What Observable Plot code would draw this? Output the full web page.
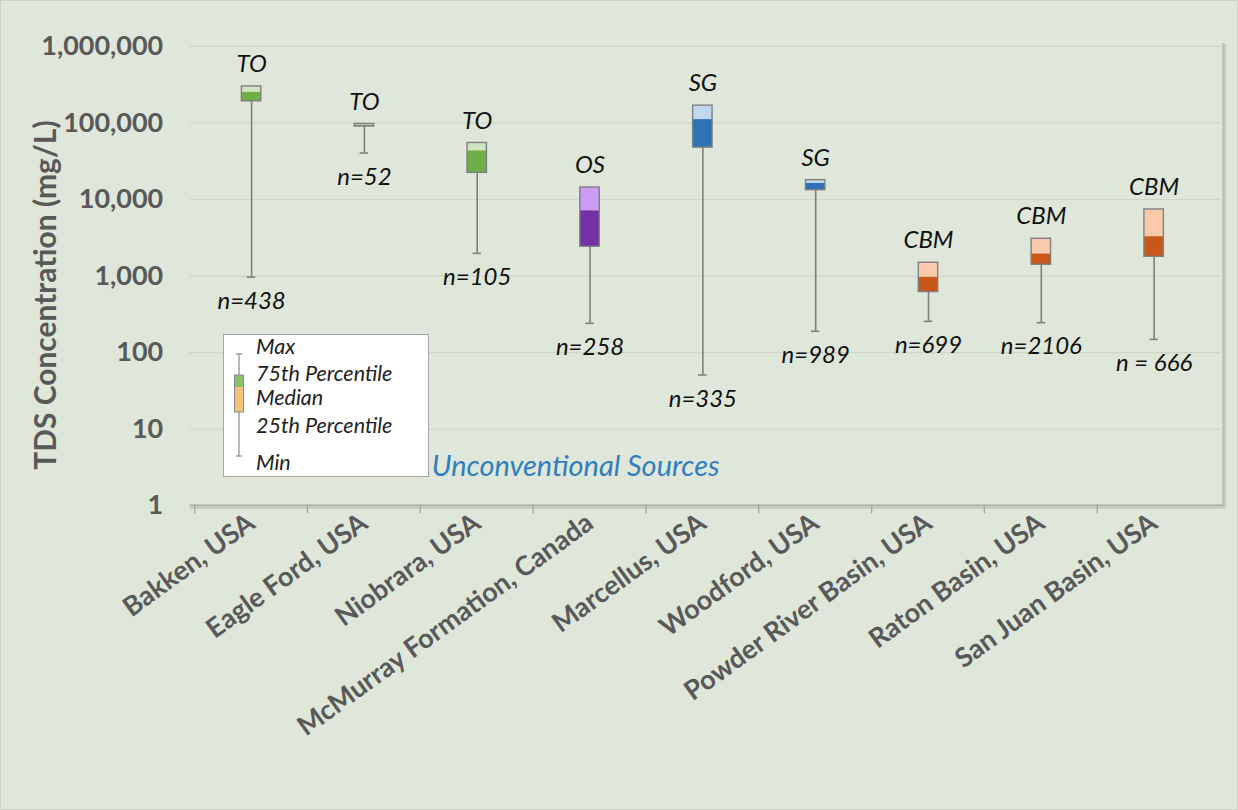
<!DOCTYPE html>
<html><head><meta charset="utf-8">
<script src="https://cdn.jsdelivr.net/npm/d3@7"></script>
<script src="https://cdn.jsdelivr.net/npm/@observablehq/plot@0.6"></script>
<style>
html,body{margin:0;padding:0;background:#dfe6da;}
#wrap{position:relative;width:1238px;height:810px;overflow:hidden;background:#dfe6da;box-sizing:border-box;border:1px solid #c9d0c5;}
#legend{position:absolute;left:222px;top:333px;width:206px;height:143px;background:#fff;border:1px solid #a6a6a6;box-sizing:border-box;font-family:Lato,sans-serif;font-style:italic;font-size:21.5px;color:#222;}
#legend .t{position:absolute;left:32px;line-height:1;transform:translateY(-50%);white-space:nowrap;}
#legend svg{position:absolute;left:0;top:0;}
</style></head><body>
<div id="wrap"></div>
<script>
// ---- data ----
const categories = ["Bakken, USA","Eagle Ford, USA","Niobrara, USA","McMurray Formation, Canada","Marcellus, USA","Woodford, USA","Powder River Basin, USA","Raton Basin, USA","San Juan Basin, USA"];
const playType   = ["TO","TO","TO","OS","SG","SG","CBM","CBM","CBM"];
const sampleLabels = ["n=438","n=52","n=105","n=258","n=335","n=989","n=699","n=2106","n = 666"];
const minVals    = [970, 40500, 1980, 241, 51, 190, 256, 246, 149];
const q1Vals     = [192000, 90000, 22300, 2415, 47700, 13240, 618, 1405, 1786];
const medianVals = [251000, 93000, 43100, 7110, 110600, 16200, 962, 1936, 3260];
const q3Vals     = [300000, 97000, 54800, 14350, 168400, 17900, 1493, 3070, 7410];
const maxVals    = [300000, 97000, 54800, 14350, 168400, 17900, 1493, 3070, 7410];
const yTicks     = [1, 10, 100, 1000, 10000, 100000, 1000000];
const legendItems = ["Max","75th Percentile","Median","25th Percentile","Min"];
const annotation = "Unconventional Sources";
const yTitle = "TDS Concentration (mg/L)";

const typeColors = {
  TO:  ["#cfe5bf", "#6faf47"],
  OS:  ["#cd9af6", "#7430a4"],
  SG:  ["#c0d9f0", "#2e73b6"],
  CBM: ["#f8caaa", "#c85718"]
};

const rows = categories.map((c, i) => ({
  cat: c, type: playType[i], n: sampleLabels[i],
  min: minVals[i], q1: q1Vals[i], med: medianVals[i], q3: q3Vals[i], max: maxVals[i]
}));

const W = 1238, H = 810;
const mL = 192, mR = 24, mT = 46, mB = 304;
const band = (W - mL - mR) / categories.length;
const boxInset = (band - 20) / 2;
const capInset = (band - 9) / 2;
const grey = "#595959";

function decor(index, scales, values, dims) {
  const x = scales.x, y = scales.y;
  const ns = "http://www.w3.org/2000/svg";
  const g = document.createElementNS(ns, "g");
  const y0 = y(1), yTop = y(1000000);
  const xl = dims.marginLeft - 2;
  const xr = dims.width - dims.marginRight + 11;
  let s = "";
  s += `<line x1="${xr+1.5}" x2="${xr+1.5}" y1="${yTop-2}" y2="${y0+3}" stroke="#c3cabe" stroke-width="3"/>`;
  s += `<line x1="${xr}" x2="${xr}" y1="${yTop-3}" y2="${y0}" stroke="#b4bbaf" stroke-width="1.2"/>`;
  s += `<line x1="${xl}" x2="${xr+2}" y1="${y0+2}" y2="${y0+2}" stroke="#c3cabe" stroke-width="3"/>`;
  s += `<line x1="${xl}" x2="${xr}" y1="${y0}" y2="${y0}" stroke="#9fa69b" stroke-width="1.3"/>`;
  categories.forEach((c) => {
    const bx = x(c);
    s += `<line x1="${bx}" x2="${bx}" y1="${y0}" y2="${y0+8}" stroke="#9fa69b" stroke-width="1.3"/>`;
  });
  g.innerHTML = s;
  return g;
}

const chart = Plot.plot({
  width: W, height: H,
  marginLeft: mL, marginRight: mR, marginTop: mT, marginBottom: mB,
  style: {fontFamily: "Lato, sans-serif", background: "transparent", overflow: "visible"},
  x: {domain: categories, padding: 0},
  y: {type: "log", domain: [1, 1000000]},
  color: {type: "identity"},
  marks: [
    Plot.ruleY(yTicks.slice(1), {stroke: "#ced6c9", strokeWidth: 1.2, insetLeft: -2, insetRight: -9}),
    decor,
    Plot.ruleX(rows, {x: "cat", y1: "min", y2: "max", stroke: "#7f7f7f", strokeWidth: 1.6}),
    Plot.tickY(rows, {x: "cat", y: "min", stroke: "#7f7f7f", strokeWidth: 1.6, insetLeft: capInset, insetRight: capInset}),
    Plot.barY(rows, {x: "cat", y1: "med", y2: "q3", fill: d => typeColors[d.type][0], insetLeft: boxInset, insetRight: boxInset}),
    Plot.barY(rows, {x: "cat", y1: "q1", y2: "med", fill: d => typeColors[d.type][1], insetLeft: boxInset, insetRight: boxInset}),
    Plot.barY(rows, {x: "cat", y1: "q1", y2: "q3", fill: "none", stroke: "#7f7f7f", strokeWidth: 1.4, insetLeft: boxInset, insetRight: boxInset}),
    Plot.text(rows, {x: "cat", y: "max", text: "type", dy: -22, fontStyle: "italic", fontSize: 24, fill: "#111", lineAnchor: "middle"}),
    Plot.text(rows, {x: "cat", y: "min", text: "n", dy: 24, fontStyle: "italic", fontSize: 24, fill: "#111", lineAnchor: "middle"}),
    Plot.text([annotation], {frameAnchor: "bottom-left", dx: 240, dy: -39, lineAnchor: "middle", textAnchor: "start", fontStyle: "italic", fontSize: 29, fill: "#2e7ec0"}),
    Plot.text([yTitle], {frameAnchor: "left", rotate: -90, dx: -146, dy: 19, textAnchor: "middle", fontSize: 30, fontWeight: "bold", fill: grey}),
    Plot.axisY(yTicks, {tickFormat: d3.format(","), tickSize: 0, tickPadding: 29, fontSize: 27, fontWeight: "bold", fill: grey, label: null}),
    Plot.axisX({tickRotate: -36, tickSize: 0, tickPadding: 14, fontSize: 27, fontWeight: "bold", fill: grey, label: null})
  ]
});

const wrap = document.getElementById("wrap");
chart.style.position = "absolute";
chart.style.left = "-1px";
chart.style.top = "-1px";
wrap.appendChild(chart);

// legend (HTML overlay)
const legend = document.createElement("div");
legend.id = "legend";
const iconSvg = `<svg width="40" height="141" xmlns="http://www.w3.org/2000/svg">
  <line x1="15" x2="15" y1="19" y2="121" stroke="#8a8a8a" stroke-width="1.2"/>
  <line x1="12" x2="18" y1="19" y2="19" stroke="#8a8a8a" stroke-width="1.2"/>
  <line x1="12" x2="18" y1="121" y2="121" stroke="#8a8a8a" stroke-width="1.2"/>
  <rect x="10.5" y="40" width="9" height="12" fill="#8fbf6d"/>
  <rect x="10.5" y="52" width="9" height="25" fill="#f3c27c"/>
  <rect x="10.5" y="40" width="9" height="37" fill="none" stroke="#8a8a8a" stroke-width="1"/>
</svg>`;
legend.innerHTML = iconSvg;
const legendY = [12, 39, 63, 91, 128];
legendItems.forEach((t, i) => {
  const d = document.createElement("div");
  d.className = "t";
  d.style.top = legendY[i] + "px";
  d.textContent = t;
  legend.appendChild(d);
});
wrap.appendChild(legend);
</script>
</body></html>
